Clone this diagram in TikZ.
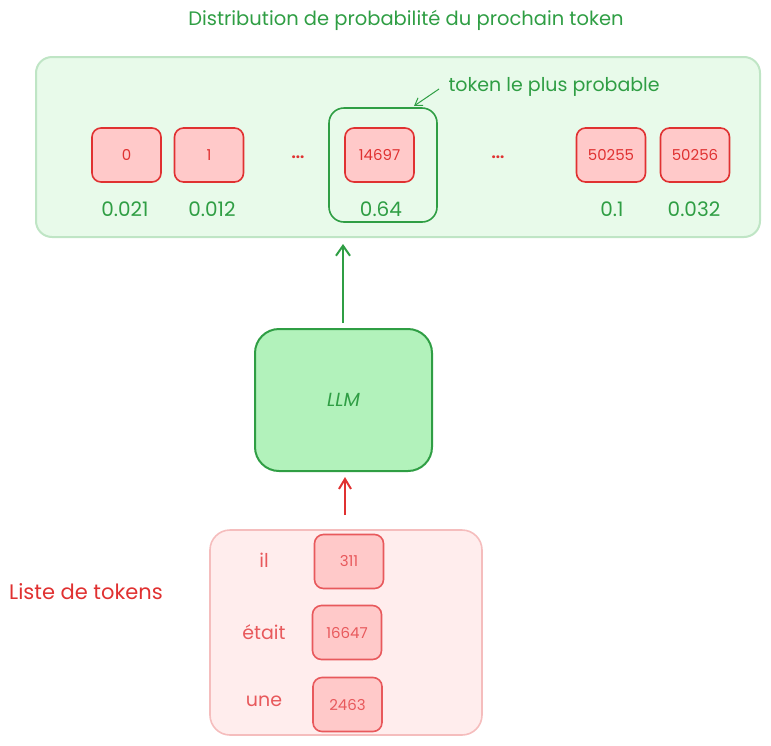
\documentclass[tikz,border=0pt]{standalone}
\usepackage{fontspec}
\setmainfont{Poppins}
\usetikzlibrary{arrows.meta}
\definecolor{gtext}{HTML}{2F9E44}
\definecolor{rtext}{HTML}{E03131}
\definecolor{bigfill}{HTML}{E8FAEA}
\definecolor{bigdraw}{HTML}{BFE5C5}
\definecolor{tokfill}{HTML}{FFC9C9}
\definecolor{llmfill}{HTML}{B2F2BB}
\definecolor{listfill}{HTML}{FFEDED}
\definecolor{listdraw}{HTML}{F5BDBD}
\definecolor{lsttokdraw}{HTML}{E8595C}
\tikzset{
  x=1pt, y=-1pt,
  tok/.style={draw=rtext, fill=tokfill, line width=1.6pt, rounded corners=9pt,
    minimum width=69pt, minimum height=54pt, inner sep=0pt, text=rtext, font=\fontsize{15}{17}\selectfont},
  ltok/.style={tok, draw=lsttokdraw, text=lsttokdraw},
  prob/.style={text=gtext, font=\fontsize{20}{22}\selectfont},
  word/.style={text=lsttokdraw, font=\fontsize{19}{21}\selectfont},
  dots/.style={text=rtext, font=\fontsize{15}{17}\selectfont\bfseries},
}
\begin{document}
\begin{tikzpicture}
\useasboundingbox (0,0) rectangle (771,745);
% title
\node[text=gtext, font=\fontsize{19.5}{22}\selectfont] (title) at (406,20) {Distribution de probabilité du prochain token};
% big box
\node[draw=bigdraw, fill=bigfill, line width=2pt, rounded corners=16pt, minimum width=724pt, minimum height=180pt, inner sep=0pt] (dist) at (398,147) {};
% tokens
\node[tok] (t0) at (126.5,155) {0};
\node[tok] (t1) at (209,155) {1};
\node[dots] (d1) at (298,157) {...};
\node[draw=gtext, line width=1.6pt, rounded corners=15pt, minimum width=108pt, minimum height=114pt, inner sep=0pt] (hl) at (383,165) {};
\node[tok] (t14697) at (379.5,155) {14697};
\node[dots] (d2) at (498,157) {...};
\node[tok] (t50255) at (611,155) {50255};
\node[tok] (t50256) at (695,155) {50256};
% probabilities
\node[prob] (p0) at (125,209) {0.021};
\node[prob] (p1) at (212,209) {0.012};
\node[prob] (p2) at (381,209) {0.64};
\node[prob] (p3) at (612,209) {0.1};
\node[prob] (p4) at (694,209) {0.032};
% annotation
\node[text=gtext, font=\fontsize{19}{21}\selectfont, anchor=west] (ann) at (445,87) {token le plus probable};
\coordinate (annstart) at (439,89);
\coordinate (annend) at (414,106);
\draw[gtext, line width=1pt, -{Straight Barb[length=7pt,width=9pt]}] (annstart) -- (annend);
% LLM
\node[draw=gtext, fill=llmfill, line width=2pt, rounded corners=24pt, minimum width=177pt, minimum height=142pt, inner sep=0pt, text=gtext, font=\fontsize{19}{21}\selectfont\itshape] (llm) at (343.5,400) {LLM};
\coordinate (llmtop) at (343,323);
\coordinate (disttip) at (343,244);
\draw[gtext, line width=2pt, -{Straight Barb[length=10pt,width=14pt]}] (llmtop) -- (disttip);
% list box
\node[draw=listdraw, fill=listfill, line width=1.6pt, rounded corners=20pt, minimum width=272pt, minimum height=205pt, inner sep=0pt] (list) at (346,632.5) {};
\coordinate (listtop) at (345,515);
\coordinate (llmbot) at (345,477);
\draw[rtext, line width=2pt, -{Straight Barb[length=10pt,width=12pt]}] (listtop) -- (llmbot);
\node[word] (w1) at (264,560) {il};
\node[ltok] (l1) at (349,561.5) {311};
\node[word] (w2) at (264,632) {était};
\node[ltok] (l2) at (347,632.5) {16647};
\node[word] (w3) at (264,701) {une};
\node[ltok] (l3) at (347.5,704.5) {2463};
\node[text=rtext, font=\fontsize{21}{23}\selectfont] (lbl) at (86,592) {Liste de tokens};
\end{tikzpicture}
\end{document}
